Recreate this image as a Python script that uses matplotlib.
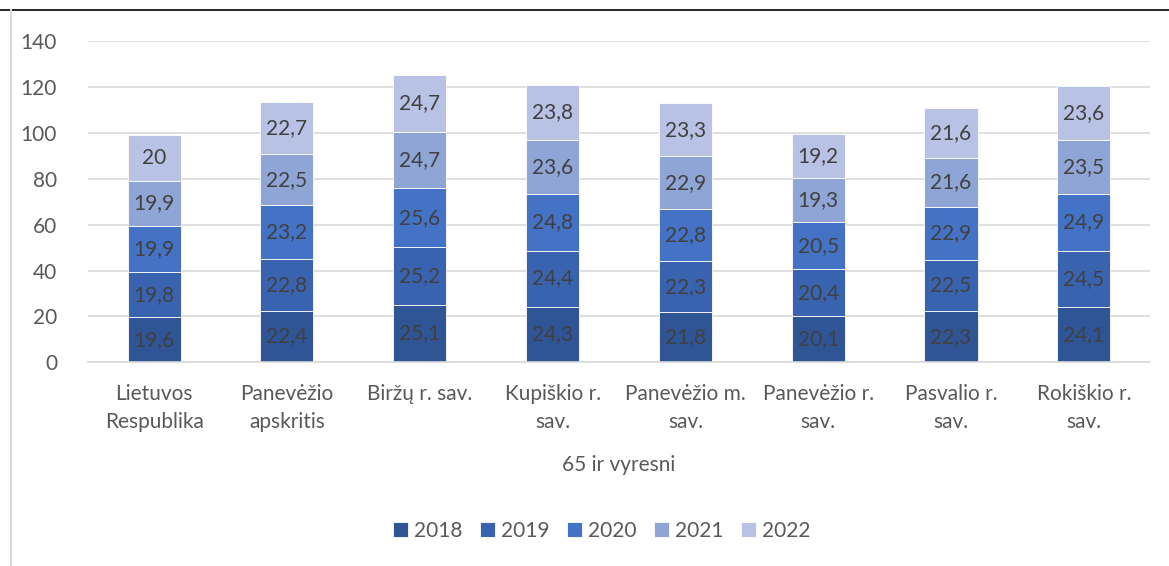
import matplotlib.pyplot as plt
import numpy as np
from matplotlib.lines import Line2D

plt.rcParams['font.family'] = ['Lato', 'DejaVu Sans']

categories = ["Lietuvos\nRespublika", "Panevėžio\napskritis", "Biržų r. sav.",
              "Kupiškio r.\nsav.", "Panevėžio m.\nsav.", "Panevėžio r.\nsav.",
              "Pasvalio r.\nsav.", "Rokiškio r.\nsav."]
years = ["2018", "2019", "2020", "2021", "2022"]
v2018 = [19.6, 22.4, 25.1, 24.3, 21.8, 20.1, 22.3, 24.1]
v2019 = [19.8, 22.8, 25.2, 24.4, 22.3, 20.4, 22.5, 24.5]
v2020 = [19.9, 23.2, 25.6, 24.8, 22.8, 20.5, 22.9, 24.9]
v2021 = [19.9, 22.5, 24.7, 23.6, 22.9, 19.3, 21.6, 23.5]
v2022 = [20, 22.7, 24.7, 23.8, 23.3, 19.2, 21.6, 23.6]
colors = ["#2F5597", "#3A63AF", "#4472C4", "#8EA5D6", "#B8C2E4"]

series = [v2018, v2019, v2020, v2021, v2022]
fs = 15

fig = plt.figure(figsize=(11.69, 5.66), dpi=100)
ax = fig.add_axes([0.075, 0.36, 0.909, 0.567])

x = np.arange(len(categories))
bottom = np.zeros(len(categories))
for vals, year, col in zip(series, years, colors):
    vals = np.array(vals)
    ax.bar(x, vals, 0.4, bottom=bottom, color=col, label=year,
           edgecolor="white", linewidth=0.6, zorder=2)
    for xi, b, v in zip(x, bottom, vals):
        ax.text(xi, b + v / 2, f"{v:g}".replace(".", ","), ha="center",
                va="center", fontsize=fs, color="#404040", zorder=3)
    bottom += vals

ax.set_ylim(0, 140)
ax.set_xlim(-0.5, len(categories) - 0.5)
ax.set_yticks(range(0, 141, 20))
ax.yaxis.grid(True, color="#D9D9D9", linewidth=1.2, zorder=0)
ax.set_axisbelow(True)
for s in ["top", "right", "left"]:
    ax.spines[s].set_visible(False)
ax.spines["bottom"].set_color("#D9D9D9")
ax.spines["bottom"].set_linewidth(1.2)
ax.tick_params(axis="both", length=0, labelsize=fs, labelcolor="#595959")
ax.tick_params(axis="y", pad=22)
ax.tick_params(axis="x", pad=16)
ax.set_xticks(x)
ax.set_xticklabels(categories, linespacing=1.45)
ax.set_xlabel("65 ir vyresni", fontsize=fs, color="#595959", labelpad=17)

ax.legend(loc="center", bbox_to_anchor=(0.515, 0.062), bbox_transform=fig.transFigure,
          ncol=5, frameon=False, fontsize=fs, handlelength=0.7, handleheight=0.7,
          handletextpad=0.3, columnspacing=0.85, labelcolor="#595959")

fig.add_artist(Line2D([0, 1], [0.982, 0.982], color="black", linewidth=1.2,
                      transform=fig.transFigure))
fig.add_artist(Line2D([0.009, 0.009], [0, 0.982], color="#D9D9D9", linewidth=1.5,
                      transform=fig.transFigure))

plt.savefig("out.png", dpi=100)
